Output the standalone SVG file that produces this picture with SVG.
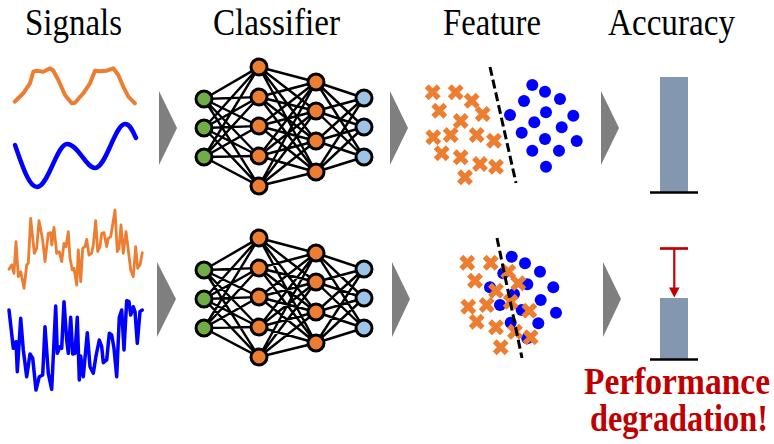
<svg xmlns="http://www.w3.org/2000/svg" xmlns:xlink="http://www.w3.org/1999/xlink" width="774" height="444" viewBox="0 0 774 444">
  <style>
    .title { font-family: "Liberation Serif", "Times New Roman", serif; font-size: 37px; fill: #000; }
    .warn { font-family: "Liberation Serif", "Times New Roman", serif; font-size: 33px; font-weight: bold; fill: #C00000; }
    .edge { stroke: #000; stroke-width: 2.4; fill: none; }
    .node { stroke: #000; stroke-width: 3; }
    .in { fill: #70AD47; }
    .hid { fill: #ED7D31; }
    .out { fill: #9DC3E6; }
    .step { fill: #7F7F7F; }
    .bar { fill: #8497B0; }
    .base { stroke: #000; stroke-width: 2.7; }
    .dot { fill: #0000FF; }
    .split { stroke: #000; stroke-width: 3; stroke-dasharray: 9 4; fill: none; }
    .wave { fill: none; stroke-linejoin: round; stroke-linecap: round; }
  </style>
  <defs>
    <path id="cross" d="M-6-6L6 6M-6 6L6-6" stroke="#ED7D31" stroke-width="5.5" fill="none"/>
    <circle id="pt" r="6" class="dot"/>
    <!-- fully connected mesh between the four layers -->
    <path id="mesh" class="edge" d="M204 99L259 67M204 99L259 97M204 99L259 126M204 99L259 156M204 99L259 186M204 128L259 67M204 128L259 97M204 128L259 126M204 128L259 156M204 128L259 186M204 157L259 67M204 157L259 97M204 157L259 126M204 157L259 156M204 157L259 186M259 67L316 82M259 67L316 111M259 67L316 141M259 67L316 172M259 97L316 82M259 97L316 111M259 97L316 141M259 97L316 172M259 126L316 82M259 126L316 111M259 126L316 141M259 126L316 172M259 156L316 82M259 156L316 111M259 156L316 141M259 156L316 172M259 186L316 82M259 186L316 111M259 186L316 141M259 186L316 172M316 82L364 98M316 82L364 127M316 82L364 157M316 111L364 98M316 111L364 127M316 111L364 157M316 141L364 98M316 141L364 127M316 141L364 157M316 172L364 98M316 172L364 127M316 172L364 157"/>
  </defs>

  <rect width="774" height="444" fill="#fff"/>

  <!-- column headings -->
  <g id="headings">
    <text class="title" x="25" y="35" textLength="97" lengthAdjust="spacingAndGlyphs">Signals</text>
    <text class="title" x="213" y="35" textLength="127" lengthAdjust="spacingAndGlyphs">Classifier</text>
    <text class="title" x="443" y="35" textLength="98" lengthAdjust="spacingAndGlyphs">Feature</text>
    <text class="title" x="608" y="35" textLength="127" lengthAdjust="spacingAndGlyphs">Accuracy</text>
  </g>

  <!-- input signals -->
  <g id="signals-clean">
    <polyline class="wave" stroke="#ED7D31" stroke-width="4" points="14.7,101.7 23.3,93.3 30,83.3 33.3,71.7 36.7,70.7 43.3,71.7 50,68.3 53.3,70.7 58.3,80 65,95 71.7,103.3 75,102.7 83.3,93.3 90,83.3 95,70.7 100,71.3 106.7,70.7 113.3,68.3 118.3,75 123.3,86.7 128.3,96.7 135,103.3"/>
    <path class="wave" stroke="#0000FF" stroke-width="4.5" d="M15 145C22 165 29 187 37 187C48 187 57 144 67 144C78 144 86 168 95 168C106 168 115 124 125 124C130 124 133 131 136 138"/>
  </g>
  <g id="signals-noisy">
    <polyline class="wave" stroke="#ED7D31" stroke-width="2.8" points="9,269.3 11.7,265 14,273.3 16,241.7 18.3,276.7 20.7,271.7 24,288.3 26.7,265 28.3,263.3 30.7,218.3 34.3,253.3 36.7,248.3 39,220.7 42.7,240 45,261.7 48.3,233.3 50.7,232.7 51.7,245 54,227.3 56.7,253.3 59.3,251.7 61.7,261.7 64,243.3 66,246.7 68.3,231.7 70,258.3 72.3,270 74,268.3 76.7,285 78.3,250 80.7,281.7 82.7,248.3 85,246.7 86.7,239.3 89,255 91.7,253.3 93.3,245 95.7,220.7 97.7,251.7 100,246.7 101.7,233.3 104,232.7 106.7,246.7 108.3,238.3 110.7,236.7 115,210 117.3,251.7 119,248.3 121,225 123.3,253.3 126,231.7 128.3,250 130.7,270 133.3,276.7 135.7,246.7 137.7,268.3 140,265 142.3,252.7"/>
    <polyline class="wave" stroke="#0000FF" stroke-width="3.5" points="9,310 13.3,348.3 16,341.7 17.3,371.7 20.7,318.3 23.3,350 26.7,376.7 30,354 32.7,358.3 36,390 39.3,376.7 42.7,375 45,326.7 48.3,373.3 51.7,389.3 55.7,306 57.3,353.3 60,346.7 61.7,348.3 64,301.7 66.7,340 68.3,353.3 70.7,317.3 72.7,354 75,353.3 77.3,317.3 79.3,380 80.7,356 83.3,376.7 87.3,332.7 90,366.7 93.3,373.3 96,356 99.3,340 101.7,346.7 103.3,362.7 106.7,360 109.3,333.3 111.7,335 114,348.3 116.7,376.7 119.3,317.3 121.7,310 124,350 126.7,300.7 129,301.7 130.7,315 133.3,306.7 135,311.7 137.3,343.3 140,311.7 142.3,310"/>
  </g>

  <!-- stage arrows and network links -->
  <g id="connectors">
    <polygon class="step" points="159,91 177,128 159,165"/>
    <polygon class="step" points="157,262 176,299 157,337"/>
    <polygon class="step" points="390,91 408,128 390,165"/>
    <polygon class="step" points="392,262 410,299 392,337"/>
    <polygon class="step" points="601,91 619,128 601,165"/>
    <polygon class="step" points="603,262 621,299 603,337"/>
    <use xlink:href="#mesh"/>
    <use xlink:href="#mesh" transform="translate(0,171)"/>
  </g>

  <!-- classifier, clean input -->
  <g id="net-top">
    <g id="t-in1"><circle class="node in" cx="204" cy="99" r="8"/></g>
    <g id="t-in2"><circle class="node in" cx="204" cy="128" r="8"/></g>
    <g id="t-in3"><circle class="node in" cx="204" cy="157" r="8"/></g>
    <g id="t-h1a"><circle class="node hid" cx="259" cy="67" r="8"/></g>
    <g id="t-h1b"><circle class="node hid" cx="259" cy="97" r="8"/></g>
    <g id="t-h1c"><circle class="node hid" cx="259" cy="126" r="8"/></g>
    <g id="t-h1d"><circle class="node hid" cx="259" cy="156" r="8"/></g>
    <g id="t-h1e"><circle class="node hid" cx="259" cy="186" r="8"/></g>
    <g id="t-h2a"><circle class="node hid" cx="316" cy="82" r="8"/></g>
    <g id="t-h2b"><circle class="node hid" cx="316" cy="111" r="8"/></g>
    <g id="t-h2c"><circle class="node hid" cx="316" cy="141" r="8"/></g>
    <g id="t-h2d"><circle class="node hid" cx="316" cy="172" r="8"/></g>
    <g id="t-out1"><circle class="node out" cx="364" cy="98" r="8"/></g>
    <g id="t-out2"><circle class="node out" cx="364" cy="127" r="8"/></g>
    <g id="t-out3"><circle class="node out" cx="364" cy="157" r="8"/></g>
  </g>

  <!-- classifier, noisy input -->
  <g id="net-bottom" transform="translate(0,171)">
    <g id="b-in1"><circle class="node in" cx="204" cy="99" r="8"/></g>
    <g id="b-in2"><circle class="node in" cx="204" cy="128" r="8"/></g>
    <g id="b-in3"><circle class="node in" cx="204" cy="157" r="8"/></g>
    <g id="b-h1a"><circle class="node hid" cx="259" cy="67" r="8"/></g>
    <g id="b-h1b"><circle class="node hid" cx="259" cy="97" r="8"/></g>
    <g id="b-h1c"><circle class="node hid" cx="259" cy="126" r="8"/></g>
    <g id="b-h1d"><circle class="node hid" cx="259" cy="156" r="8"/></g>
    <g id="b-h1e"><circle class="node hid" cx="259" cy="186" r="8"/></g>
    <g id="b-h2a"><circle class="node hid" cx="316" cy="82" r="8"/></g>
    <g id="b-h2b"><circle class="node hid" cx="316" cy="111" r="8"/></g>
    <g id="b-h2c"><circle class="node hid" cx="316" cy="141" r="8"/></g>
    <g id="b-h2d"><circle class="node hid" cx="316" cy="172" r="8"/></g>
    <g id="b-out1"><circle class="node out" cx="364" cy="98" r="8"/></g>
    <g id="b-out2"><circle class="node out" cx="364" cy="127" r="8"/></g>
    <g id="b-out3"><circle class="node out" cx="364" cy="157" r="8"/></g>
  </g>

  <!-- feature space, separable -->
  <g id="feature-top">
    <use xlink:href="#pt" x="532.3" y="85"/>
    <use xlink:href="#pt" x="545" y="91.7"/>
    <use xlink:href="#pt" x="524" y="101"/>
    <use xlink:href="#pt" x="560" y="99"/>
    <use xlink:href="#pt" x="510" y="115"/>
    <use xlink:href="#pt" x="546" y="112.3"/>
    <use xlink:href="#pt" x="573.3" y="115.7"/>
    <use xlink:href="#pt" x="534.3" y="122.3"/>
    <use xlink:href="#pt" x="561.7" y="127.3"/>
    <use xlink:href="#pt" x="521.7" y="132.7"/>
    <use xlink:href="#pt" x="545" y="139"/>
    <use xlink:href="#pt" x="576.7" y="141"/>
    <use xlink:href="#pt" x="532.3" y="150.7"/>
    <use xlink:href="#pt" x="559" y="150.7"/>
    <use xlink:href="#pt" x="546" y="166.7"/>
    <use xlink:href="#cross" x="432.7" y="92.3"/>
    <use xlink:href="#cross" x="455.7" y="92.3"/>
    <use xlink:href="#cross" x="439.3" y="110.7"/>
    <use xlink:href="#cross" x="471.7" y="100.7"/>
    <use xlink:href="#cross" x="482.7" y="114"/>
    <use xlink:href="#cross" x="460.7" y="121"/>
    <use xlink:href="#cross" x="433.3" y="137.3"/>
    <use xlink:href="#cross" x="450.7" y="135"/>
    <use xlink:href="#cross" x="476.7" y="135"/>
    <use xlink:href="#cross" x="494" y="140.7"/>
    <use xlink:href="#cross" x="441.7" y="153.3"/>
    <use xlink:href="#cross" x="460.7" y="157.3"/>
    <use xlink:href="#cross" x="480" y="164"/>
    <use xlink:href="#cross" x="496" y="166.7"/>
    <use xlink:href="#cross" x="465" y="177.3"/>
    <path class="split" d="M490 67L516 183"/>
  </g>

  <!-- feature space, overlapping -->
  <g id="feature-bottom">
    <use xlink:href="#pt" x="511.7" y="256.7"/>
    <use xlink:href="#pt" x="525" y="263.3"/>
    <use xlink:href="#pt" x="540" y="271.7"/>
    <use xlink:href="#pt" x="503.3" y="273.3"/>
    <use xlink:href="#pt" x="527.3" y="284.3"/>
    <use xlink:href="#pt" x="553.3" y="287.3"/>
    <use xlink:href="#pt" x="490" y="287.3"/>
    <use xlink:href="#pt" x="514" y="294"/>
    <use xlink:href="#pt" x="540.7" y="300"/>
    <use xlink:href="#pt" x="500" y="305"/>
    <use xlink:href="#pt" x="521.7" y="310"/>
    <use xlink:href="#pt" x="556" y="312.7"/>
    <use xlink:href="#pt" x="538.3" y="323.3"/>
    <use xlink:href="#pt" x="510.7" y="322.7"/>
    <use xlink:href="#pt" x="527.3" y="338.3"/>
    <use xlink:href="#cross" x="467.3" y="262.7"/>
    <use xlink:href="#cross" x="490.7" y="262.7"/>
    <use xlink:href="#cross" x="508.3" y="271.7"/>
    <use xlink:href="#cross" x="475" y="280.7"/>
    <use xlink:href="#cross" x="518.3" y="283.3"/>
    <use xlink:href="#cross" x="496" y="290.7"/>
    <use xlink:href="#cross" x="468.3" y="306.7"/>
    <use xlink:href="#cross" x="486.7" y="305"/>
    <use xlink:href="#cross" x="510.7" y="301.7"/>
    <use xlink:href="#cross" x="529.3" y="310.7"/>
    <use xlink:href="#cross" x="476.7" y="321.7"/>
    <use xlink:href="#cross" x="496" y="327.3"/>
    <use xlink:href="#cross" x="515" y="331.7"/>
    <use xlink:href="#cross" x="530.7" y="337.3"/>
    <use xlink:href="#cross" x="500.7" y="347.3"/>
    <path class="split" d="M497 238L522 358"/>
  </g>

  <!-- accuracy bars -->
  <g id="accuracy-top">
    <rect class="bar" x="660" y="77" width="28" height="115"/>
    <line class="base" x1="650" y1="192.5" x2="698" y2="192.5"/>
  </g>
  <g id="accuracy-bottom">
    <rect class="bar" x="660" y="298" width="28" height="61"/>
    <line class="base" x1="650" y1="359.5" x2="698" y2="359.5"/>
    <line x1="660" y1="248.5" x2="688" y2="248.5" stroke="#C00000" stroke-width="2.7"/>
    <line x1="674.3" y1="248.5" x2="674.3" y2="289" stroke="#C00000" stroke-width="2.2"/>
    <polygon points="669,287.5 679.6,287.5 674.3,297.5" fill="#C00000"/>
  </g>

  <!-- label, stretched slightly upright -->
  <g id="degradation-label">
    <text class="warn" transform="translate(584,394) scale(1,1.12)" textLength="186" lengthAdjust="spacingAndGlyphs">Performance</text>
    <text class="warn" transform="translate(590,431) scale(1,1.12)" textLength="178" lengthAdjust="spacingAndGlyphs">degradation!</text>
  </g>
</svg>
